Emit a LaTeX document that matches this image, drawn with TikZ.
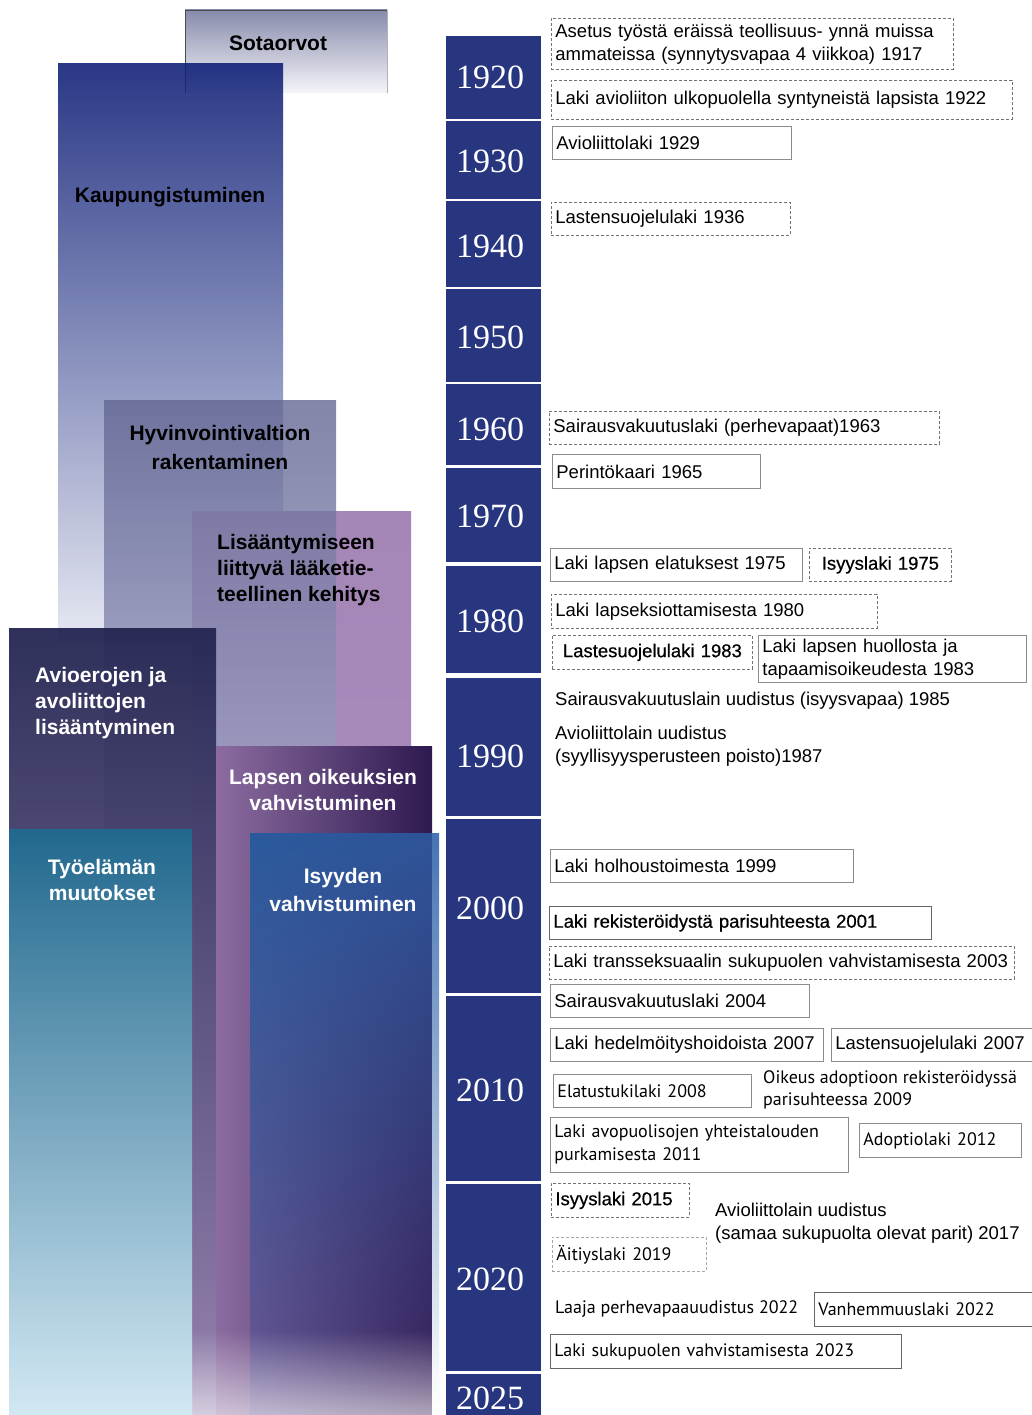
\documentclass[tikz,border=0pt]{standalone}
\usepackage{fontspec}
\setmainfont{Liberation Sans}
\newfontfamily\semifont{Liberation Sans}[FakeBold=0.6]
\newfontfamily\myriadfont{PT Sans}
\newfontfamily\yearfont{Liberation Serif}
\usetikzlibrary{fadings,shadings}

\definecolor{yearblue}{RGB}{40,54,128}
\definecolor{sotatop}{RGB}{135,139,172}
\definecolor{sotabot}{RGB}{245,245,249}
\definecolor{kauptop}{RGB}{13,29,118}
\definecolor{kaupbot}{RGB}{227,229,241}
\definecolor{hyvtop}{RGB}{100,104,148}
\definecolor{hyvbot}{RGB}{162,164,198}
\definecolor{listop}{RGB}{164,134,183}
\definecolor{lisbot}{RGB}{176,150,196}
\definecolor{aviotop}{RGB}{36,38,82}
\definecolor{aviobot}{RGB}{150,130,175}
\definecolor{tyotop}{RGB}{33,104,142}
\definecolor{tyobot}{RGB}{210,232,243}
\definecolor{lapleft}{RGB}{140,108,160}
\definecolor{lapright}{RGB}{45,25,80}
\definecolor{isyul}{RGB}{42,90,156}
\definecolor{isyur}{RGB}{46,84,152}
\definecolor{isyll}{RGB}{105,85,145}
\definecolor{isylr}{RGB}{58,32,88}
\definecolor{striptop}{RGB}{70,115,178}

\begin{document}
\begin{tikzpicture}[x=1pt, y=-1pt,
  yeartext/.style={text=white, inner sep=0pt, font=\yearfont\fontsize{34}{34}\selectfont},
  law/.style={anchor=north west, inner xsep=4pt, inner ysep=0pt, align=left, font=\fontsize{18.5}{23}\selectfont},
  lawline/.style={law, draw=black!45, line width=0.8pt},
  lawdash/.style={law, draw=black!55, line width=0.8pt, dash pattern=on 3pt off 2pt},
  lawfree/.style={anchor=west, inner sep=0pt, align=left, font=\fontsize{18.5}{23}\selectfont},
  myriad/.style={font=\myriadfont\fontsize{18}{23}\selectfont},
  heavy/.style={font=\semifont\fontsize{18.5}{23}\selectfont},
  theme/.style={inner sep=0pt, font=\bfseries\fontsize{21}{26}\selectfont},
  themewhite/.style={theme, text=white}]
\path [use as bounding box, fill=white] (0,0) rectangle (1031,1415);

\shade [top color=sotatop, bottom color=sotabot] (185,10) rectangle (387,93);
\draw [black!70, line width=0.8pt] (185,93) -- (185,10) -- (387,10);
\draw [black!30, line width=0.8pt] (387,10) -- (387,93);
\shade [top color=kauptop, bottom color=kaupbot, fill opacity=0.88] (58,64) rectangle (283,640);
\shade [top color=listop, bottom color=lisbot] (192,511) rectangle (411,1415);
\shade [top color=hyvtop, bottom color=hyvbot, fill opacity=0.8] (104,400) rectangle (336,830);
\shade [top color=aviotop, bottom color=aviobot, fill opacity=0.95] (9,628) rectangle (216,1415);
\shade [top color=tyotop, bottom color=tyobot] (9,829) rectangle (192,1415);
\shade [left color=lapleft, right color=lapright] (216,746) rectangle (432,1415);
\shade [upper left=isyul, upper right=isyur, lower left=isyll, lower right=isylr] (250,833) rectangle (432,1415);
\shade [top color=striptop, bottom color=white] (432,833) rectangle (439,1415);
\fill [white, fill opacity=0.6, path fading=north] (192,1330) rectangle (439,1415);

\node [theme] (sota) at (278,43) {Sotaorvot};
\node [theme] (kaup) at (170,197) {Kaupungistuminen};
\node [theme, align=center, font=\bfseries\fontsize{21}{29}\selectfont] (hyv) at (220,447.5) {Hyvinvointivaltion\\rakentaminen};
\node [theme, anchor=west, align=left] (lis) at (217,570) {Lisääntymiseen\\liittyvä lääketie-\\teellinen kehitys};
\node [themewhite, anchor=west, align=left] (avio) at (35,703) {Avioerojen ja\\avoliittojen\\lisääntyminen};
\node [themewhite, align=center] (lapsi) at (323,790) {Lapsen oikeuksien\\vahvistuminen};
\node [themewhite, align=center] (tyo) at (102,880) {Työelämän\\muutokset};
\node [themewhite, align=center, font=\bfseries\fontsize{21}{28}\selectfont] (isyys) at (343,890) {Isyyden\\vahvistuminen};

\fill [yearblue] (446,36) rectangle (541,119);
\node [yeartext] (y1920) at (490,77) {1920};
\fill [yearblue] (446,121) rectangle (541,199);
\node [yeartext] (y1930) at (490,161) {1930};
\fill [yearblue] (446,201) rectangle (541,287);
\node [yeartext] (y1940) at (490,246) {1940};
\fill [yearblue] (446,289) rectangle (541,382);
\node [yeartext] (y1950) at (490,337) {1950};
\fill [yearblue] (446,384) rectangle (541,465);
\node [yeartext] (y1960) at (490,429) {1960};
\fill [yearblue] (446,468) rectangle (541,562);
\node [yeartext] (y1970) at (490,516) {1970};
\fill [yearblue] (446,566) rectangle (541,673);
\node [yeartext] (y1980) at (490,621) {1980};
\fill [yearblue] (446,678) rectangle (541,816);
\node [yeartext] (y1990) at (490,756) {1990};
\fill [yearblue] (446,819) rectangle (541,993);
\node [yeartext] (y2000) at (490,908) {2000};
\fill [yearblue] (446,996) rectangle (541,1181);
\node [yeartext] (y2010) at (490,1090) {2010};
\fill [yearblue] (446,1184) rectangle (541,1371);
\node [yeartext] (y2020) at (490,1279) {2020};
\fill [yearblue] (446,1374) rectangle (541,1420);
\node [yeartext] (y2025) at (490,1398) {2025};

\node [lawdash, text width=394pt, minimum height=51pt] (a1917) at (551,18) {Asetus työstä eräissä teollisuus- ynnä muissa\\ammateissa (synnytysvapaa 4 viikkoa) 1917};
\node [lawdash, text width=453pt, minimum height=39pt] (a1922) at (551,80) {Laki avioliiton ulkopuolella syntyneistä lapsista 1922};
\node [lawline, text width=231pt, minimum height=33pt] (a1929) at (552,126) {Avioliittolaki 1929};
\node [lawdash, text width=231pt, minimum height=33pt] (a1936) at (551,202) {Lastensuojelulaki 1936};
\node [lawdash, text width=382pt, minimum height=33pt] (a1963) at (549,411) {Sairausvakuutuslaki (perhevapaat)1963};
\node [lawline, text width=200pt, minimum height=34pt] (a1965) at (552,454) {Perintökaari 1965};
\node [lawline, text width=244pt, minimum height=33pt] (a1975) at (550,548) {Laki lapsen elatuksest 1975};
\node [lawdash, heavy, text width=134pt, minimum height=33pt, align=center] (i1975) at (809,548) {Isyyslaki 1975};
\node [lawdash, text width=318pt, minimum height=34pt] (a1980) at (551,594) {Laki lapseksiottamisesta 1980};
\node [lawdash, heavy, text width=192pt, minimum height=34pt, align=center] (a1983) at (552,635) {Lastesuojelulaki 1983};
\node [lawline, text width=260pt, minimum height=47pt] (h1983) at (758,635) {Laki lapsen huollosta ja\\tapaamisoikeudesta 1983};
\node [lawfree] (a1985) at (555,701) {Sairausvakuutuslain uudistus (isyysvapaa) 1985};
\node [lawfree] (a1987) at (555,746.5) {Avioliittolain uudistus\\(syyllisyysperusteen poisto)1987};
\node [lawline, text width=295pt, minimum height=33pt] (a1999) at (550,849) {Laki holhoustoimesta 1999};
\node [lawline, heavy, draw=black!60, text width=374pt, minimum height=33pt] (a2001) at (549,906) {Laki rekisteröidystä parisuhteesta 2001};
\node [lawdash, text width=457pt, minimum height=33pt] (a2003) at (549,946) {Laki transseksuaalin sukupuolen vahvistamisesta 2003};
\node [lawline, text width=251pt, minimum height=33pt] (a2004) at (550,984) {Sairausvakuutuslaki 2004};
\node [lawline, text width=265pt, minimum height=33pt] (h2007) at (550,1028) {Laki hedelmöityshoidoista 2007};
\node [lawline, text width=196pt, minimum height=33pt] (l2007) at (831,1028) {Lastensuojelulaki 2007};
\node [lawline, myriad, text width=190pt, minimum height=33pt] (a2008) at (553,1074) {Elatustukilaki 2008};
\node [lawfree, font=\myriadfont\fontsize{18}{22}\selectfont] (a2009) at (763,1090) {Oikeus adoptioon rekisteröidyssä\\parisuhteessa 2009};
\node [lawline, myriad, text width=290pt, minimum height=55pt] (a2011) at (550,1117) {Laki avopuolisojen yhteistalouden\\purkamisesta 2011};
\node [lawline, myriad, text width=154pt, minimum height=34pt] (a2012) at (859,1123) {Adoptiolaki 2012};
\node [lawdash, heavy, text width=130pt, minimum height=34pt] (a2015) at (551,1183) {Isyyslaki 2015};
\node [lawfree] (a2017) at (715,1223.5) {Avioliittolain uudistus\\(samaa sukupuolta olevat parit) 2017};
\node [lawdash, myriad, draw=black!35, text width=146pt, minimum height=34pt] (a2019) at (552,1237) {Äitiyslaki 2019};
\node [lawfree, myriad] (p2022) at (555,1309) {Laaja perhevapaauudistus 2022};
\node [lawline, myriad, draw=black!60, text width=213pt, minimum height=34pt] (v2022) at (814,1292) {Vanhemmuuslaki 2022};
\node [lawline, myriad, draw=black!60, text width=343pt, minimum height=34pt] (a2023) at (550,1334) {Laki sukupuolen vahvistamisesta 2023};
\end{tikzpicture}
\end{document}
